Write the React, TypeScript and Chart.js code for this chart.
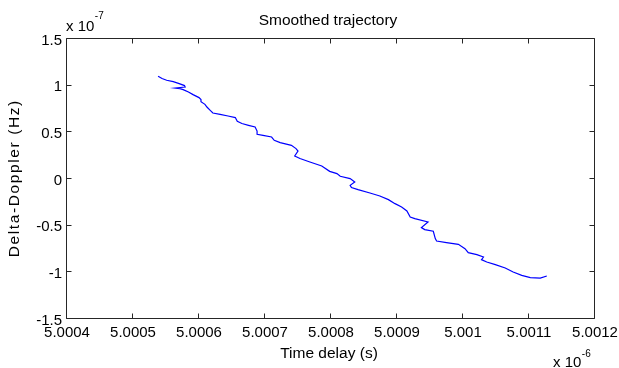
import React, { useEffect, useRef } from "react";
import { Chart, registerables } from "chart.js";

Chart.register(...registerables);

// Time delay (×1e-6 s)
const delayValues = [
  5.000538, 5.000544, 5.000551, 5.000561, 5.00057, 5.000578, 5.000579, 5.000564, 5.000571, 5.000576,
  5.000584, 5.000591, 5.0006, 5.000603, 5.000603, 5.000609, 5.000612, 5.000617, 5.000621, 5.000632,
  5.000644, 5.000655, 5.000658, 5.000665, 5.000675, 5.000685, 5.000688, 5.000688, 5.000697, 5.00071,
  5.000714, 5.000723, 5.00074, 5.000747, 5.00075, 5.000745, 5.000753, 5.000768, 5.000786, 5.000798,
  5.000809, 5.000814, 5.000829, 5.000836, 5.000829, 5.000831, 5.000841, 5.000859, 5.000874, 5.000887,
  5.000897, 5.000907, 5.000915, 5.00092, 5.000927, 5.000947, 5.000937, 5.000942, 5.000955, 5.000958,
  5.00096, 5.000975, 5.000993, 5.001003, 5.001008, 5.001021, 5.001031, 5.001028, 5.001036, 5.001049,
  5.001064, 5.001076, 5.001089, 5.001102, 5.001117, 5.001127,
];

// Delta-Doppler (×1e-7 Hz)
const dopplerValues = [
  1.1, 1.076, 1.058, 1.044, 1.022, 1.001, 0.986, 0.975, 0.969, 0.958,
  0.932, 0.904, 0.872, 0.851, 0.829, 0.8, 0.771, 0.736, 0.707, 0.693,
  0.675, 0.658, 0.618, 0.594, 0.575, 0.557, 0.514, 0.479, 0.468, 0.45,
  0.415, 0.39, 0.361, 0.326, 0.3, 0.246, 0.219, 0.182, 0.139, 0.082,
  0.058, 0.029, 0.004, -0.032, -0.068, -0.092, -0.114, -0.15, -0.182, -0.221,
  -0.264, -0.3, -0.343, -0.407, -0.424, -0.461, -0.521, -0.542, -0.56, -0.639,
  -0.664, -0.681, -0.7, -0.746, -0.789, -0.81, -0.836, -0.864, -0.889, -0.917,
  -0.954, -0.996, -1.032, -1.056, -1.061, -1.039,
];

const xTickValues = [5.0004, 5.0005, 5.0006, 5.0007, 5.0008, 5.0009, 5.001, 5.0011, 5.0012];
const yTickValues = [1.5, 1, 0.5, 0, -0.5, -1, -1.5];

const titleText = "Smoothed trajectory";
const xLabelText = "Time delay (s)";
const yLabelText = "Delta-Doppler (Hz)";
const xExponent = "-6";
const yExponent = "-7";

const FONT = '"Liberation Sans", Arial, sans-serif';
const AXIS_COLOR = "#262626";
const TEXT_COLOR = "#000000";

const fmtX = (v: number) => String(Number(v.toFixed(4)));
const fmtY = (v: number) => {
  const s = String(Number(v.toFixed(1)));
  return s === "-0" ? "0" : s;
};

function drawSpacedCentered(ctx: CanvasRenderingContext2D, text: string, cx: number, y: number, spacing: number) {
  const chars = Array.from(text);
  const widths = chars.map((c) => ctx.measureText(c).width);
  const total = widths.reduce((a, b) => a + b, 0) + spacing * (chars.length - 1);
  let x = cx - total / 2;
  ctx.textAlign = "left";
  chars.forEach((c, i) => {
    ctx.fillText(c, x, y);
    x += widths[i] + spacing;
  });
}

const matlabAxes = {
  id: "matlabAxes",
  afterDatasetsDraw(chart: any) {
    const { ctx, chartArea, scales } = chart;
    const xs = scales.x;
    const ys = scales.y;
    const L = chartArea.left - 0.5;
    const R = chartArea.right - 0.5;
    const T = chartArea.top - 0.5;
    const B = chartArea.bottom - 0.5;
    const tl = 5;
    ctx.save();
    ctx.strokeStyle = AXIS_COLOR;
    ctx.lineWidth = 1;
    ctx.beginPath();
    ctx.rect(L, T, R - L, B - T);
    xTickValues.forEach((v) => {
      const px = Math.round(xs.getPixelForValue(v)) - 0.5;
      ctx.moveTo(px, B);
      ctx.lineTo(px, B - tl);
      ctx.moveTo(px, T);
      ctx.lineTo(px, T + tl);
    });
    yTickValues.forEach((v) => {
      const py = Math.round(ys.getPixelForValue(v)) - 0.5;
      ctx.moveTo(L, py);
      ctx.lineTo(L + tl, py);
      ctx.moveTo(R, py);
      ctx.lineTo(R - tl, py);
    });
    ctx.stroke();

    ctx.fillStyle = TEXT_COLOR;
    ctx.font = `15px ${FONT}`;
    ctx.textBaseline = "alphabetic";
    ctx.textAlign = "center";
    xTickValues.forEach((v) => {
      ctx.fillText(fmtX(v), xs.getPixelForValue(v), 337);
    });
    ctx.textAlign = "right";
    yTickValues.forEach((v) => {
      ctx.fillText(fmtY(v), 62, ys.getPixelForValue(v) + 5.5);
    });

    // exponents
    ctx.textAlign = "left";
    ctx.font = `15px ${FONT}`;
    ctx.fillText("x 10", 66, 31);
    const w1 = ctx.measureText("x 10").width;
    ctx.fillText("x 10", 553, 367);
    const w2 = ctx.measureText("x 10").width;
    ctx.font = `10px ${FONT}`;
    ctx.fillText(yExponent, 66 + w1 + 0.5, 19);
    ctx.fillText(xExponent, 553 + w2 + 0.5, 357);

    // titles
    ctx.font = `15.5px ${FONT}`;
    ctx.textAlign = "center";
    ctx.fillText(titleText, 328, 25);
    ctx.fillText(xLabelText, 329, 358);
    ctx.save();
    ctx.translate(19, (chartArea.top + chartArea.bottom) / 2);
    ctx.rotate(-Math.PI / 2);
    drawSpacedCentered(ctx, yLabelText, 0, 0, 1.6);
    ctx.restore();
    ctx.restore();
  },
};

export default function App() {
  const canvasRef = useRef<HTMLCanvasElement | null>(null);

  useEffect(() => {
    const canvas = canvasRef.current;
    if (!canvas) return;
    const points = delayValues.map((x, i) => ({ x, y: dopplerValues[i] }));
    const chart = new Chart(canvas, {
      type: "scatter",
      data: {
        datasets: [
          {
            data: points,
            showLine: true,
            borderColor: "#0000ff",
            backgroundColor: "#0000ff",
            borderWidth: 1.2,
            pointRadius: 0,
            pointHoverRadius: 0,
            tension: 0,
          },
        ],
      },
      options: {
        responsive: false,
        animation: false,
        devicePixelRatio: 1,
        layout: { padding: { left: 67, top: 39, right: 24, bottom: 49 } },
        plugins: {
          legend: { display: false },
          tooltip: { enabled: false },
          title: { display: false },
        },
        events: [],
        scales: {
          x: {
            type: "linear",
            display: false,
            min: xTickValues[0],
            max: xTickValues[xTickValues.length - 1],
          },
          y: {
            type: "linear",
            display: false,
            min: yTickValues[yTickValues.length - 1],
            max: yTickValues[0],
          },
        },
      },
      plugins: [matlabAxes],
    });
    return () => chart.destroy();
  }, []);

  return (
    <div
      style={{
        position: "fixed",
        left: 0,
        top: 0,
        width: 619,
        height: 368,
        background: "#ffffff",
      }}
    >
      <canvas ref={canvasRef} width={619} height={368} />
    </div>
  );
}
